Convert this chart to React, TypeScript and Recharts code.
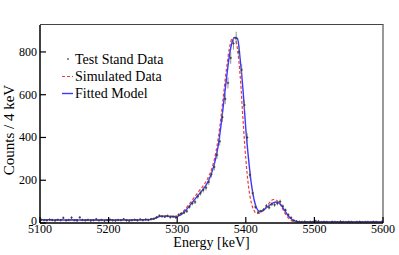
import React from 'react';
import { ComposedChart, Line, Scatter, ErrorBar, XAxis, YAxis } from 'recharts';

// 4 keV bins
const lineEnergy: number[] = Array.from({ length: 126 }, (_, i) => 5100 + 4 * i);
const binCenters: number[] = Array.from({ length: 125 }, (_, i) => 5102 + 4 * i);

const fittedModel = [
  15, 15, 15, 15, 14, 14, 14, 14, 14, 14,
  14, 14, 14, 14, 14, 14, 14, 14, 14, 14,
  14, 14, 14, 14, 14, 14, 14, 14, 14, 14,
  14, 14, 14, 14, 14, 14, 14, 15, 15, 15,
  16, 18, 22, 28, 31, 32, 32, 31, 30, 29,
  30, 36, 45, 58, 72, 88, 104, 120, 135, 150,
  168, 188, 215, 252, 300, 365, 460, 570, 680, 780,
  845, 868, 862, 760, 620, 440, 300, 185, 110, 68,
  55, 58, 66, 76, 86, 94, 98, 95, 82, 62,
  42, 26, 15, 9, 6, 5, 5, 5, 5, 5,
  5, 5, 5, 5, 5, 5, 5, 5, 5, 5,
  5, 5, 5, 5, 5, 5, 5, 5, 5, 5,
  5, 5, 5, 5, 5, 5,
];

const simulatedData = [
  16, 16, 15, 15, 15, 15, 16, 16, 15, 15,
  15, 15, 16, 16, 15, 15, 15, 15, 15, 15,
  15, 15, 15, 15, 15, 15, 15, 15, 15, 15,
  15, 15, 15, 15, 15, 16, 16, 16, 17, 17,
  18, 20, 24, 29, 32, 33, 33, 32, 32, 32,
  34, 42, 52, 66, 82, 98, 116, 133, 150, 166,
  184, 205, 233, 272, 325, 400, 500, 615, 725, 815,
  862, 865, 810, 680, 480, 300, 170, 95, 58, 45,
  46, 55, 68, 84, 100, 110, 108, 96, 76, 52,
  32, 17, 9, 6, 5, 5, 5, 5, 5, 5,
  5, 5, 5, 5, 5, 5, 5, 5, 5, 5,
  5, 5, 5, 5, 5, 5, 5, 5, 5, 5,
  5, 5, 5, 5, 5, 5,
];

const testStandData = [
  15, 13, 12, 16, 14, 11, 15, 13, 24, 12,
  14, 25, 13, 11, 26, 14, 12, 15, 11, 13,
  18, 12, 14, 10, 13, 16, 12, 11, 14, 13,
  18, 12, 10, 13, 15, 12, 17, 13, 16, 14,
  18, 20, 26, 34, 31, 29, 33, 27, 30, 26,
  38, 44, 48, 55, 76, 92, 98, 124, 140, 155,
  165, 192, 228, 262, 318, 382, 495, 580, 655, 772,
  840, 865, 800, 716, 552, 400, 225, 140, 75, 50,
  55, 62, 80, 72, 88, 85, 92, 100, 78, 60,
  38, 25, 12, 8, 6, 5, 7, 4, 6, 5,
  9, 8, 4, 6, 5, 3, 6, 5, 4, 7,
  5, 4, 6, 5, 3, 5, 6, 4, 5, 5,
  4, 6, 5, 3, 5,
];

const xTicks = [5100, 5200, 5300, 5400, 5500, 5600];
const yTicks = [0, 200, 400, 600, 800];

const lineRows = lineEnergy.map((e, i) => ({ e, fit: fittedModel[i], sim: simulatedData[i] }));
const pointRows = binCenters.map((e, i) => ({
  e,
  c: testStandData[i],
  err: Math.sqrt(testStandData[i]),
}));

const FONT = '"Liberation Serif", "Times New Roman", serif';

const XTick = (props: any) => {
  const { x, y, payload } = props;
  return (
    <g>
      <line x1={x} x2={x} y1={y - 3} y2={y - 9} stroke="#000" strokeWidth={1.2} />
      <text x={x} y={y + 7} textAnchor="middle" fontSize={12} fontFamily={FONT} fill="#000">
        {payload.value}
      </text>
    </g>
  );
};

const YTick = (props: any) => {
  const { x, y, payload } = props;
  const dy = payload.value === 0 ? 2 : 4;
  return (
    <g>
      <line x1={x + 3} x2={x + 9} y1={y} y2={y} stroke="#000" strokeWidth={1.2} />
      <text x={x} y={y + dy} textAnchor="end" fontSize={12} fontFamily={FONT} fill="#000">
        {payload.value}
      </text>
    </g>
  );
};

const Cross = (props: any) => {
  const { cx, cy } = props;
  if (cx == null || cy == null) return null;
  return (
    <g>
      <line x1={cx - 1.2} x2={cx + 1.2} y1={cy} y2={cy} stroke="#333" strokeWidth={0.8} />
      <line x1={cx} x2={cx} y1={cy - 1.2} y2={cy + 1.2} stroke="#333" strokeWidth={0.8} />
    </g>
  );
};

export default function App() {
  return (
    <div style={{ position: 'absolute', left: 0, top: 0, width: 399, height: 255, background: '#fff', fontFamily: FONT }}>
      {/* top and right frame */}
      <div
        style={{
          position: 'absolute',
          left: 40,
          top: 24,
          width: 342,
          height: 198,
          borderTop: '1.5px solid #444',
          borderRight: '2px solid #999',
        }}
      />
      <ComposedChart width={399} height={255} data={lineRows} margin={{ top: 25, right: 16, bottom: 0, left: 0 }}>
        <XAxis
          dataKey="e"
          type="number"
          domain={[5100, 5600]}
          ticks={xTicks}
          interval={0}
          height={32}
          tickSize={0}
          tickMargin={3}
          tick={<XTick />}
          axisLine={{ stroke: '#000', strokeWidth: 1.5 }}
          allowDataOverflow
        />
        <YAxis
          type="number"
          domain={[0, 926]}
          ticks={yTicks}
          interval={0}
          width={40}
          tickSize={0}
          tickMargin={3}
          tick={<YTick />}
          axisLine={{ stroke: '#000', strokeWidth: 1.5 }}
          allowDataOverflow
        />
        <Line
          dataKey="sim"
          type="monotone"
          stroke="#f23a3a"
          strokeWidth={1.2}
          strokeDasharray="3 2"
          dot={false}
          isAnimationActive={false}
        />
        <Line
          dataKey="fit"
          type="monotone"
          stroke="#3a3aff"
          strokeWidth={1.4}
          dot={false}
          isAnimationActive={false}
        />
        <Scatter data={pointRows} dataKey="c" shape={<Cross />} isAnimationActive={false}>
          <ErrorBar dataKey="err" direction="y" width={0} stroke="#777" strokeWidth={0.8} />
        </Scatter>
      </ComposedChart>

      {/* legend */}
      <div style={{ position: 'absolute', left: 60, top: 51, fontSize: 14, lineHeight: '17px', color: '#000' }}>
        <div style={{ display: 'flex', alignItems: 'center' }}>
          <svg width={15} height={17}><circle cx={8} cy={8} r={0.8} fill="#000" /></svg>
          <span>Test Stand Data</span>
        </div>
        <div style={{ display: 'flex', alignItems: 'center' }}>
          <svg width={15} height={17}><line x1={2} x2={13} y1={8.5} y2={8.5} stroke="#f23a3a" strokeWidth={1.2} strokeDasharray="3 2" /></svg>
          <span>Simulated Data</span>
        </div>
        <div style={{ display: 'flex', alignItems: 'center' }}>
          <svg width={15} height={17}><line x1={2} x2={13} y1={8.5} y2={8.5} stroke="#3a3aff" strokeWidth={1.4} /></svg>
          <span>Fitted Model</span>
        </div>
      </div>

      {/* axis titles */}
      <div style={{ position: 'absolute', left: 0, width: 423, top: 238, textAlign: 'center', fontSize: 14, lineHeight: '10px', color: '#000' }}>
        Energy [keV]
      </div>
      <div
        style={{
          position: 'absolute',
          left: 9,
          top: 130,
          transform: 'translate(-50%, -50%) rotate(-90deg)',
          whiteSpace: 'nowrap',
          fontSize: 15,
          lineHeight: '16px',
          color: '#000',
        }}
      >
        Counts / 4 keV
      </div>
    </div>
  );
}
